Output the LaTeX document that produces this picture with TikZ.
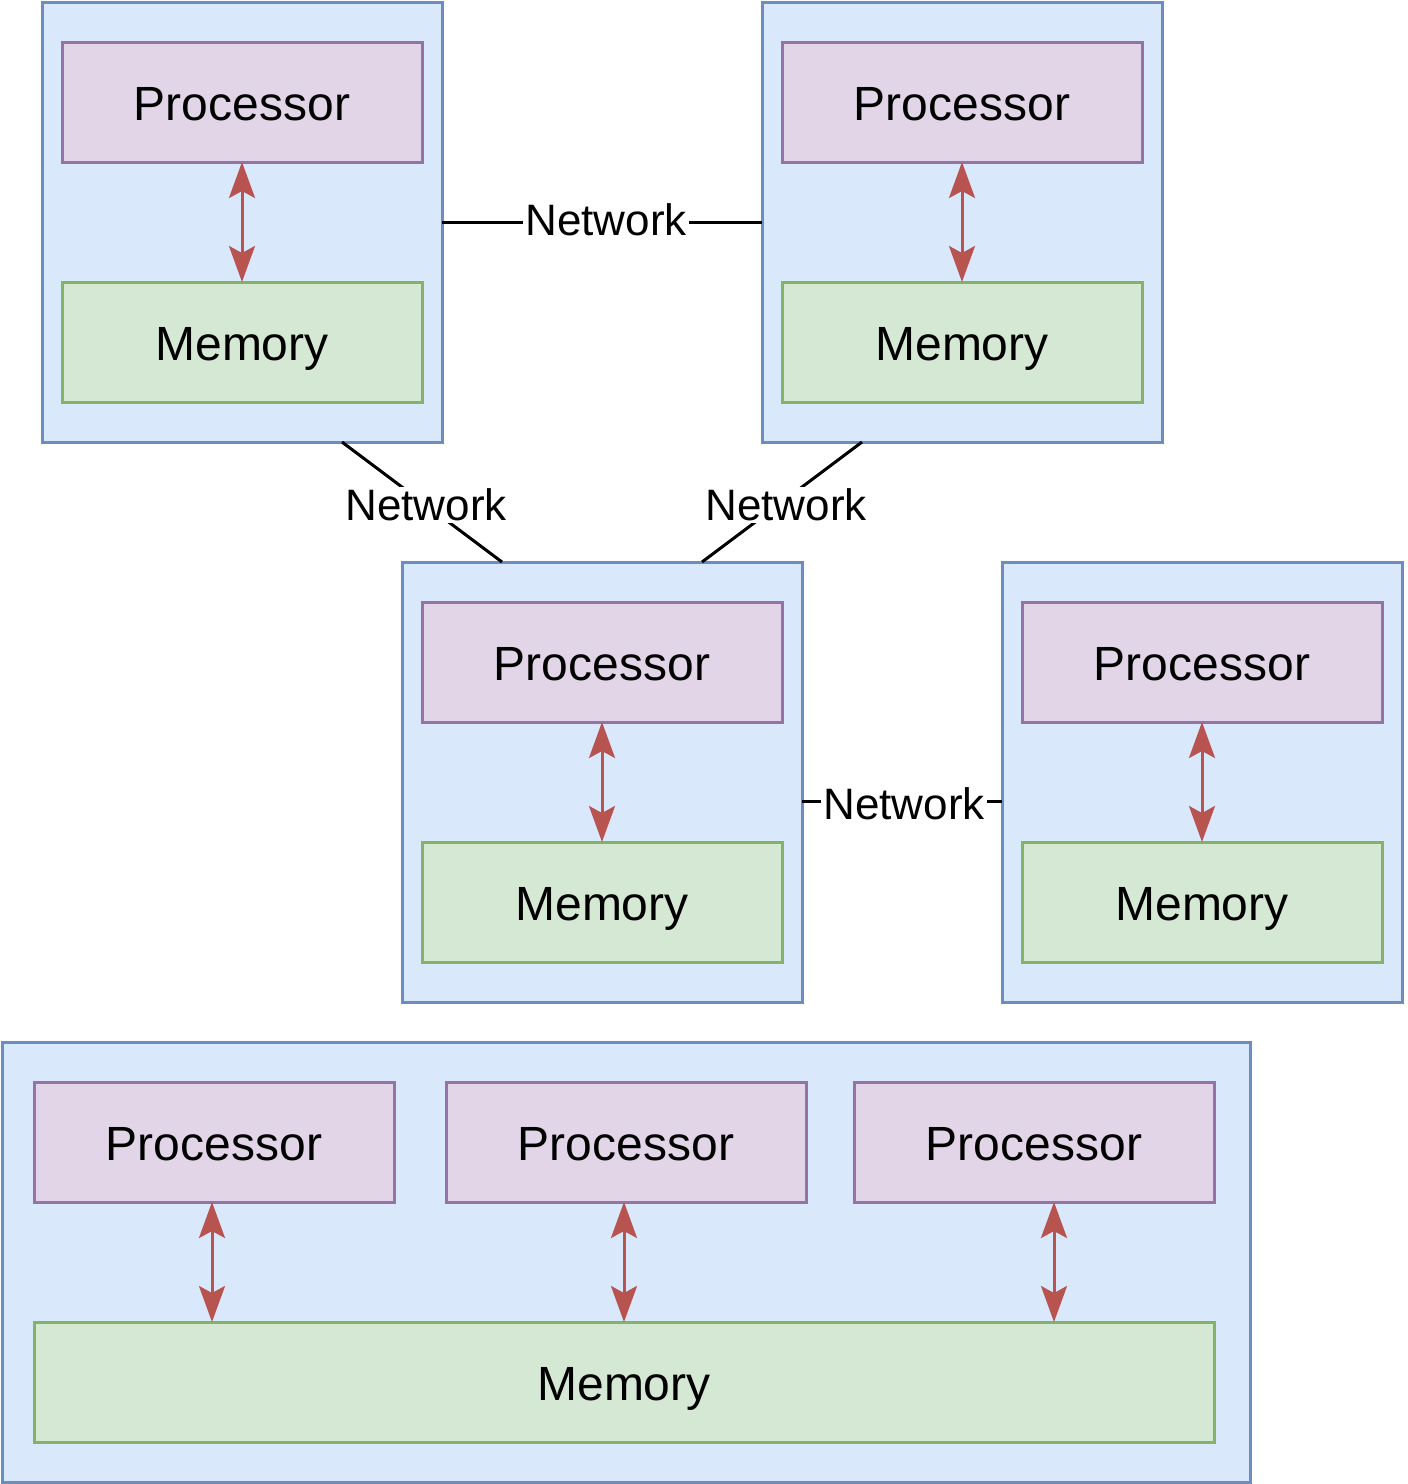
\documentclass[tikz,border=0pt]{standalone}
\usepackage{fontspec}
\setmainfont{Liberation Sans}
\usetikzlibrary{arrows.meta,calc}
\definecolor{blueF}{HTML}{DAE8FC}
\definecolor{blueS}{HTML}{6C8EBF}
\definecolor{purpF}{HTML}{E1D5E7}
\definecolor{purpS}{HTML}{9673A6}
\definecolor{greenF}{HTML}{D5E8D4}
\definecolor{greenS}{HTML}{82B366}
\definecolor{redS}{HTML}{B85450}
\tikzset{
  box/.style={draw, line width=1.5pt, inner sep=0pt, outer sep=0pt},
  container/.style={box, draw=blueS, fill=blueF, minimum width=200pt, minimum height=220pt},
  proc/.style={box, draw=purpS, fill=purpF, minimum width=180pt, minimum height=60pt, text height=18.2pt, text depth=0pt, font=\fontsize{24pt}{28pt}\selectfont},
  mem/.style={box, draw=greenS, fill=greenF, minimum width=180pt, minimum height=60pt, text height=18.2pt, text depth=0pt, font=\fontsize{24pt}{28pt}\selectfont},
  arr/.style={draw=redS, fill=redS, line width=1.5pt, {Stealth[length=18pt,width=13pt,inset=3.5pt]}-{Stealth[length=18pt,width=13pt,inset=3.5pt]}},
  netline/.style={draw=black, line width=1.5pt},
  netlabel/.style={fill=white, inner sep=1pt, font=\fontsize{22pt}{26pt}\selectfont}
}
\begin{document}
\begin{tikzpicture}[x=0.5pt,y=-0.5pt]
\useasboundingbox (0,0) rectangle (1408,1484);
% containers
\node[container] (cA) at (242,222) {};
\node[container] (cB) at (962,222) {};
\node[container] (cC) at (602,782) {};
\node[container] (cD) at (1202,782) {};
\node[container, minimum width=624pt] (cE) at (626,1262) {};
% processors & memories
\node[proc] (pA) at (242,102) {Processor};
\node[mem] (mA) at (242,342) {Memory};
\node[proc] (pB) at (962,102) {Processor};
\node[mem] (mB) at (962,342) {Memory};
\node[proc] (pC) at (602,662) {Processor};
\node[mem] (mC) at (602,902) {Memory};
\node[proc] (pD) at (1202,662) {Processor};
\node[mem] (mD) at (1202,902) {Memory};
\node[proc] (pE1) at (214,1142) {Processor};
\node[proc] (pE2) at (626,1142) {Processor};
\node[proc] (pE3) at (1034,1142) {Processor};
\node[mem, minimum width=590pt] (mE) at (624,1382) {Memory};
% arrows
\draw[arr] (pA) -- (mA);
\draw[arr] (pB) -- (mB);
\draw[arr] (pC) -- (mC);
\draw[arr] (pD) -- (mD);
\coordinate (t1) at ([xshift=-1pt]pE1.south);
\coordinate (t2) at ([xshift=-1pt]pE2.south);
\coordinate (t3) at ([xshift=10pt]pE3.south);
\draw[arr] (t1) -- (t1 |- mE.north);
\draw[arr] (t2) -- (t2 |- mE.north);
\draw[arr] (t3) -- (t3 |- mE.north);
% networks
\draw[netline] (cA.east) -- node[netlabel, xshift=2pt, yshift=1pt] {Network} (cB.west);
\draw[netline] ($(cA.south west)!0.75!(cA.south east)$) -- node[netlabel, xshift=2pt, yshift=-1.5pt] {Network} ($(cC.north west)!0.25!(cC.north east)$);
\draw[netline] ($(cB.south west)!0.25!(cB.south east)$) -- node[netlabel, xshift=2pt, yshift=-1.5pt] {Network} ($(cC.north west)!0.75!(cC.north east)$);
\draw[netline] ($(cC.north east)!0.545!(cC.south east)$) -- node[netlabel, xshift=1pt, yshift=-1pt] {Network} ($(cD.north west)!0.545!(cD.south west)$);
\end{tikzpicture}
\end{document}
